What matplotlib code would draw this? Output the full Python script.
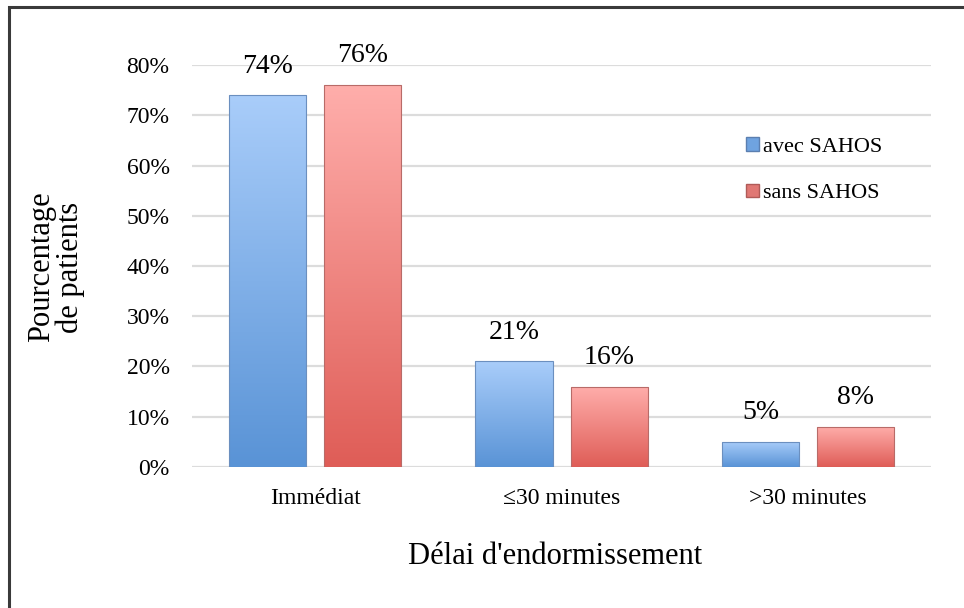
import numpy as np
import matplotlib.pyplot as plt
from matplotlib.patches import Rectangle
from matplotlib.colors import LinearSegmentedColormap

# Data
categories = ['Immédiat', '≤30 minutes', '>30 minutes']
avec_sahos = [0.74, 0.21, 0.05]
sans_sahos = [0.76, 0.16, 0.08]
series_names = ['avec SAHOS', 'sans SAHOS']
y_ticks = [0.0, 0.1, 0.2, 0.3, 0.4, 0.5, 0.6, 0.7, 0.8]

plt.rcParams['font.family'] = ['Liberation Serif', 'DejaVu Serif']

fig = plt.figure(figsize=(9.64, 6.08), dpi=100)
ax = fig.add_axes([0.199, 0.232, 0.767, 0.661])

# outer frame of the chart area
fig.patches.append(Rectangle((0.009, -0.05), 1.1, 1.038, transform=fig.transFigure,
                             fill=False, edgecolor='#3a3a3a', linewidth=2.2))

blue_cmap = LinearSegmentedColormap.from_list('b', ['#5993d6', '#a9cdfa'])
red_cmap = LinearSegmentedColormap.from_list('r', ['#df5d57', '#ffaeab'])

x = np.arange(len(categories))
w = 0.313
gap = 0.073
bars1 = ax.bar(x - (w + gap) / 2, avec_sahos, w, color='none', edgecolor='#6b8fbf', linewidth=0.8, zorder=3)
bars2 = ax.bar(x + (w + gap) / 2, sans_sahos, w, color='none', edgecolor='#b86b68', linewidth=0.8, zorder=3)

# vertical gradient fill, clipped to each bar
grad = np.linspace(0, 1, 256).reshape(-1, 1)
for bars, cmap in [(bars1, blue_cmap), (bars2, red_cmap)]:
    for b in bars:
        x0, y0, bw, bh = b.get_x(), b.get_y(), b.get_width(), b.get_height()
        im = ax.imshow(grad, cmap=cmap, origin='lower', aspect='auto',
                       extent=(x0, x0 + bw, y0, y0 + bh), zorder=2)
        im.set_clip_path(b)
        ax.annotate('{:.0%}'.format(bh), (x0 + bw / 2, bh), xytext=(0, 12),
                    textcoords='offset points', ha='center', va='bottom', fontsize=20)

ax.set_xlim(-0.5, 2.5)
ax.set_ylim(0, 0.8)
ax.set_yticks(y_ticks)
ax.set_yticklabels(['{:.0%}'.format(t) for t in y_ticks], fontsize=17)
ax.set_xticks(x)
ax.set_xticklabels(categories, fontsize=17)
ax.tick_params(length=0)
ax.tick_params(axis='x', pad=15)
ax.tick_params(axis='y', pad=16)
ax.grid(axis='y', color='#dcdcdc', linewidth=1.6, zorder=0)
ax.set_axisbelow(True)
for s in ax.spines.values():
    s.set_visible(False)

fig.text(0.5 * (403 + 707) / 964, 1 - 556 / 608, "Délai d'endormissement",
         fontsize=22, ha='center', va='center')
fig.text(56 / 964, 1 - 267 / 608, 'Pourcentage\nde patients', fontsize=22,
         rotation=90, ha='center', va='center', linespacing=1.0, multialignment='center')

handles = [Rectangle((0, 0), 1, 1, facecolor='#6fa3e0', edgecolor='#5b7fb0'),
           Rectangle((0, 0), 1, 1, facecolor='#e07874', edgecolor='#b05b58')]
ax.legend(handles, series_names, loc='center left', bbox_to_anchor=(0.735, 0.738),
          frameon=False, fontsize=16, handlelength=0.55, handleheight=0.55,
          handletextpad=0.2, labelspacing=1.2, borderpad=0)

fig.savefig('out.png', dpi=100)
